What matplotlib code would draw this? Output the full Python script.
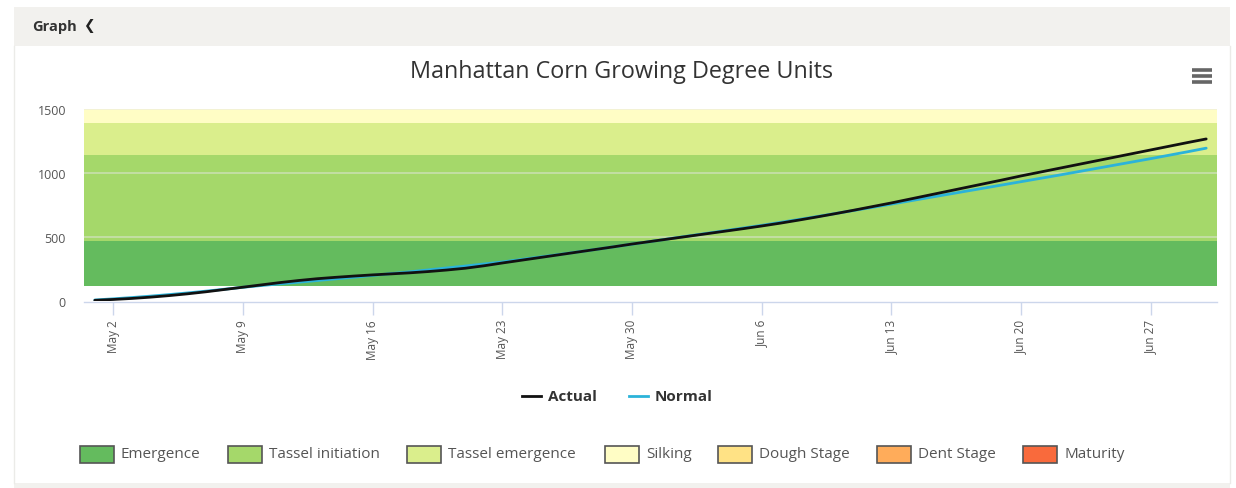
import numpy as np
import pandas as pd
import matplotlib
matplotlib.use("Agg")
from matplotlib import pyplot as plt
from matplotlib.patches import Rectangle
from matplotlib.lines import Line2D
import matplotlib.dates as mdates

# --- data ---
dates = pd.date_range("2017-05-01", "2017-06-30", freq="D")
tick_dates = pd.date_range("2017-05-02", periods=9, freq="7D")

actual = [5, 12, 20, 30, 42, 56, 72, 90, 108, 126,
          144, 160, 174, 185, 195, 204, 212, 220, 230, 242,
          256, 275, 297, 318, 339, 360, 381, 402, 423, 445,
          465, 485, 505, 525, 545, 565, 586, 608, 632, 657,
          683, 710, 738, 766, 796, 826, 856, 886, 916, 946,
          977, 1006, 1035, 1064, 1093, 1122, 1151, 1180, 1209, 1238,
          1266]
normal = [8, 17, 27, 38, 50, 63, 77, 92, 107, 121,
          134, 147, 160, 173, 186, 200, 214, 228, 243, 258,
          273, 289, 305, 324, 343, 362, 382, 402, 423, 444,
          465, 486, 507, 528, 549, 570, 591, 614, 637, 660,
          684, 708, 732, 757, 782, 807, 832, 857, 882, 907,
          932, 957, 982, 1008, 1034, 1060, 1086, 1112, 1139, 1166,
          1194]

series_names = ["Actual", "Normal"]
series_colors = ["#111111", "#2bb3d9"]

stage_names = ["Emergence", "Tassel initiation", "Tassel emergence", "Silking",
               "Dough Stage", "Dent Stage", "Maturity"]
stage_from = [115, 470, 1140, 1392, 1925, 2450, 2700]
stage_to = [470, 1140, 1392, 1925, 2450, 2700, 3000]
stage_colors = ["#64bb5e", "#a5d86a", "#daee8c", "#fffdc5",
                "#ffe285", "#ffac5a", "#f96a3c"]

W, H = 1236, 489
fig = plt.figure(figsize=(W / 100, H / 100), dpi=100)
fig.patch.set_facecolor("white")


def fx(px):
    return px / W


def fy(py):
    return 1 - py / H


# page chrome: header bar, borders
fig.add_artist(Rectangle((fx(14), fy(47)), fx(1230) - fx(14), fy(8) - fy(47),
                         transform=fig.transFigure, facecolor="#f2f1ee",
                         edgecolor="none", zorder=0))
fig.add_artist(Rectangle((fx(14), fy(489)), fx(1230) - fx(14), fy(484) - fy(489),
                         transform=fig.transFigure, facecolor="#f2f1ee",
                         edgecolor="none", zorder=0))
fig.add_artist(Line2D([fx(14), fx(14)], [fy(47), fy(484)], transform=fig.transFigure,
                      color="#ebebe8", lw=1))
fig.add_artist(Line2D([fx(1230), fx(1230)], [fy(47), fy(484)], transform=fig.transFigure,
                      color="#ebebe8", lw=1))
fig.text(fx(32), fy(27), "Graph", fontsize=10.5, fontweight="bold", color="#333333",
         va="center", ha="left", family="Open Sans")
fig.text(fx(83), fy(26), "\u276e", fontsize=10, fontweight="bold", color="#222222",
         va="center", ha="left", family="DejaVu Sans")

# hamburger menu
for py in (71, 77, 83):
    fig.add_artist(Line2D([fx(1192), fx(1212)], [fy(py), fy(py)], transform=fig.transFigure,
                          color="#666666", lw=2.6, solid_capstyle="butt"))

fig.text(fx(621), fy(72), "Manhattan Corn Growing Degree Units", ha="center", va="center",
         fontsize=16.8, color="#333333", family="Open Sans")

ax = fig.add_axes([fx(84), fy(302), fx(1217) - fx(84), fy(110) - fy(302)])
ax.set_facecolor("white")

for lo, hi, c in zip(stage_from, stage_to, stage_colors):
    ax.axhspan(lo, hi, color=c, lw=0, zorder=0)

for g in (500, 1000, 1500):
    ax.axhline(g, color="#e6e6e6", lw=1.2, alpha=0.55, zorder=1)

ax.plot(dates, normal, color=series_colors[1], lw=2, zorder=2, solid_capstyle="round")
ax.plot(dates, actual, color=series_colors[0], lw=2, zorder=3, solid_capstyle="round")

ax.set_ylim(0, 1500)
ax.set_xlim(dates[0] - pd.Timedelta(hours=14), dates[-1] + pd.Timedelta(hours=14))
ax.set_yticks([0, 500, 1000, 1500])
ax.set_xticks(tick_dates)
ax.xaxis.set_major_formatter(mdates.DateFormatter("%b %-d"))

for s in ("top", "right", "left"):
    ax.spines[s].set_visible(False)
ax.spines["bottom"].set_color("#ccd6eb")
ax.spines["bottom"].set_linewidth(1)
ax.spines["bottom"].set_position(("outward", 1))

ax.tick_params(axis="y", length=0, pad=13, labelsize=9, labelcolor="#555555")
ax.tick_params(axis="x", length=9, width=1, color="#ccd6eb", pad=3,
               labelsize=8.5, labelcolor="#555555", labelrotation=90)
for lab in ax.get_xticklabels() + ax.get_yticklabels():
    lab.set_family("Open Sans")

# series legend (Highcharts style, centered)
legend_line_x = [522, 629]
for x0, name, c in zip(legend_line_x, series_names, series_colors):
    fig.add_artist(Line2D([fx(x0), fx(x0 + 19)], [fy(397), fy(397)], transform=fig.transFigure,
                          color=c, lw=2))
    fig.text(fx(x0 + 26), fy(397), name, ha="left", va="center", fontsize=11,
             fontweight="bold", color="#333333", family="Open Sans")

# plot-band legend
legend_patch_x = [80, 228, 407, 605, 718, 877, 1023]
for x0, name, c in zip(legend_patch_x, stage_names, stage_colors):
    fig.add_artist(Rectangle((fx(x0), fy(464)), fx(34), 17 / H, transform=fig.transFigure,
                             facecolor=c, edgecolor="#555555", lw=1.2))
    fig.text(fx(x0 + 41), fy(455), name, ha="left", va="center", fontsize=11,
             color="#555555", family="Open Sans")

fig.savefig("out.png", dpi=100, facecolor="white")
